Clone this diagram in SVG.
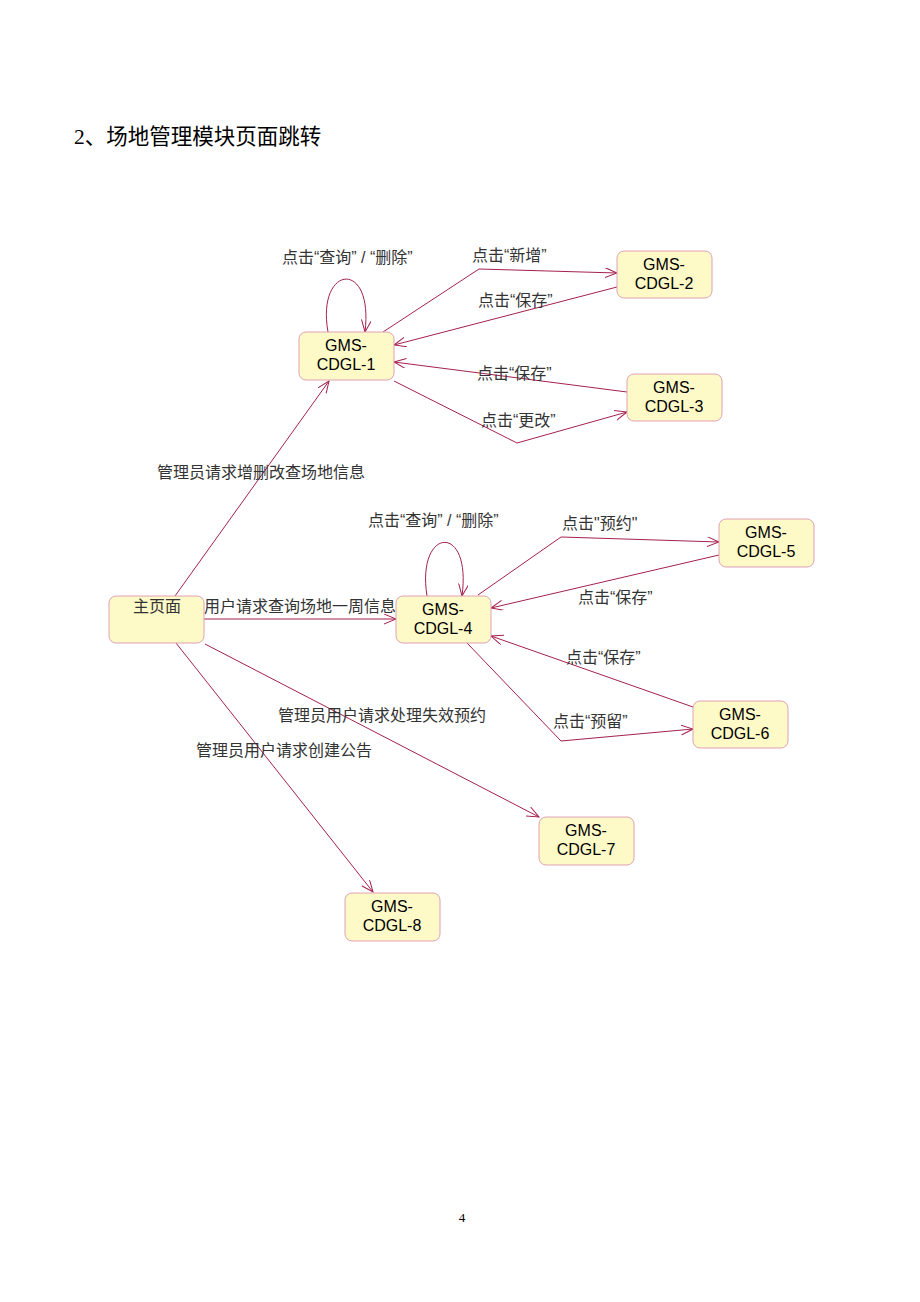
<svg xmlns="http://www.w3.org/2000/svg" width="920" height="1302" viewBox="0 0 920 1302">
<style>
.node rect{fill:#fefac8;stroke:#e0a0b4;stroke-width:1}
.node text{font-family:"Liberation Sans",Arial,sans-serif;font-size:16px;fill:#000;text-anchor:middle}
.lbl{font-family:"Liberation Sans","Noto Sans CJK SC",sans-serif;font-size:16px;fill:#333}
.edge{fill:none;stroke:#a4204e;stroke-width:1}
</style>
<defs>
<marker id="arr" markerUnits="userSpaceOnUse" markerWidth="14" markerHeight="12" refX="12" refY="5" orient="auto">
<path d="M0,0 L12,5 L0,10" fill="none" stroke="#a4204e" stroke-width="1"/>
</marker>
</defs>
<rect width="920" height="1302" fill="#fff"/>
<text x="74" y="144" font-family="Liberation Serif,Noto Sans CJK SC,serif" font-size="21.5" fill="#000">2、场地管理模块页面跳转</text>
<text x="462" y="1222" font-family="Liberation Serif,serif" font-size="13" fill="#000" text-anchor="middle">4</text>

<g id="connectors">
<path class="edge" d="M328,332 C316,265 374,258 365,332" marker-end="url(#arr)"/>
<path class="edge" d="M383,332 L479,269 L617,273" marker-end="url(#arr)"/>
<path class="edge" d="M617,287 L394,345" marker-end="url(#arr)"/>
<path class="edge" d="M627,392 L394,362" marker-end="url(#arr)"/>
<path class="edge" d="M394,381 L517,443 L627,412" marker-end="url(#arr)"/>
<path class="edge" d="M175,596 L329,381" marker-end="url(#arr)"/>
<path class="edge" d="M204,619 L396,619" marker-end="url(#arr)"/>
<path class="edge" d="M427,596 C416,527 472,522 462,596" marker-end="url(#arr)"/>
<path class="edge" d="M478,595 L561,537 L719,542" marker-end="url(#arr)"/>
<path class="edge" d="M719,555 L491,608" marker-end="url(#arr)"/>
<path class="edge" d="M693,707 L491,636" marker-end="url(#arr)"/>
<path class="edge" d="M467,643 L561,741 L693,729" marker-end="url(#arr)"/>
<path class="edge" d="M205,644 L539,817" marker-end="url(#arr)"/>
<path class="edge" d="M176,643 L373,892" marker-end="url(#arr)"/>
</g>

<g id="labels">
<text class="lbl" x="282" y="263">点击“查询” / “删除”</text>
<text class="lbl" x="472" y="261">点击“新增”</text>
<text class="lbl" x="478" y="306">点击“保存”</text>
<text class="lbl" x="477" y="379">点击“保存”</text>
<text class="lbl" x="481" y="426">点击“更改”</text>
<text class="lbl" x="157" y="478">管理员请求增删改查场地信息</text>
<text class="lbl" x="204" y="612">用户请求查询场地一周信息</text>
<text class="lbl" x="368" y="526">点击“查询” / “删除”</text>
<text class="lbl" x="562" y="529">点击"预约"</text>
<text class="lbl" x="578" y="603">点击“保存”</text>
<text class="lbl" x="566" y="663">点击“保存”</text>
<text class="lbl" x="553" y="727">点击“预留”</text>
<text class="lbl" x="278" y="721">管理员用户请求处理失效预约</text>
<text class="lbl" x="196" y="756">管理员用户请求创建公告</text>
</g>

<g id="main" class="node"><rect x="109" y="596" width="95" height="47" rx="7"/><text x="157" y="612" style="font-family:'Liberation Sans','Noto Sans CJK SC',sans-serif;fill:#333;font-size:16px">主页面</text></g>
<g id="n1" class="node"><rect x="299" y="332" width="95" height="48" rx="7"/><text x="346" y="351">GMS-</text><text x="346" y="370">CDGL-1</text></g>
<g id="n2" class="node"><rect x="617" y="251" width="95" height="47" rx="7"/><text x="664" y="270">GMS-</text><text x="664" y="289">CDGL-2</text></g>
<g id="n3" class="node"><rect x="627" y="374" width="95" height="47" rx="7"/><text x="674" y="393">GMS-</text><text x="674" y="412">CDGL-3</text></g>
<g id="n4" class="node"><rect x="396" y="596" width="95" height="47" rx="7"/><text x="443" y="615">GMS-</text><text x="443" y="634">CDGL-4</text></g>
<g id="n5" class="node"><rect x="719" y="519" width="95" height="48" rx="7"/><text x="766" y="538">GMS-</text><text x="766" y="557">CDGL-5</text></g>
<g id="n6" class="node"><rect x="693" y="701" width="95" height="47" rx="7"/><text x="740" y="720">GMS-</text><text x="740" y="739">CDGL-6</text></g>
<g id="n7" class="node"><rect x="539" y="817" width="95" height="48" rx="7"/><text x="586" y="836">GMS-</text><text x="586" y="855">CDGL-7</text></g>
<g id="n8" class="node"><rect x="345" y="893" width="95" height="48" rx="7"/><text x="392" y="912">GMS-</text><text x="392" y="931">CDGL-8</text></g>
</svg>
